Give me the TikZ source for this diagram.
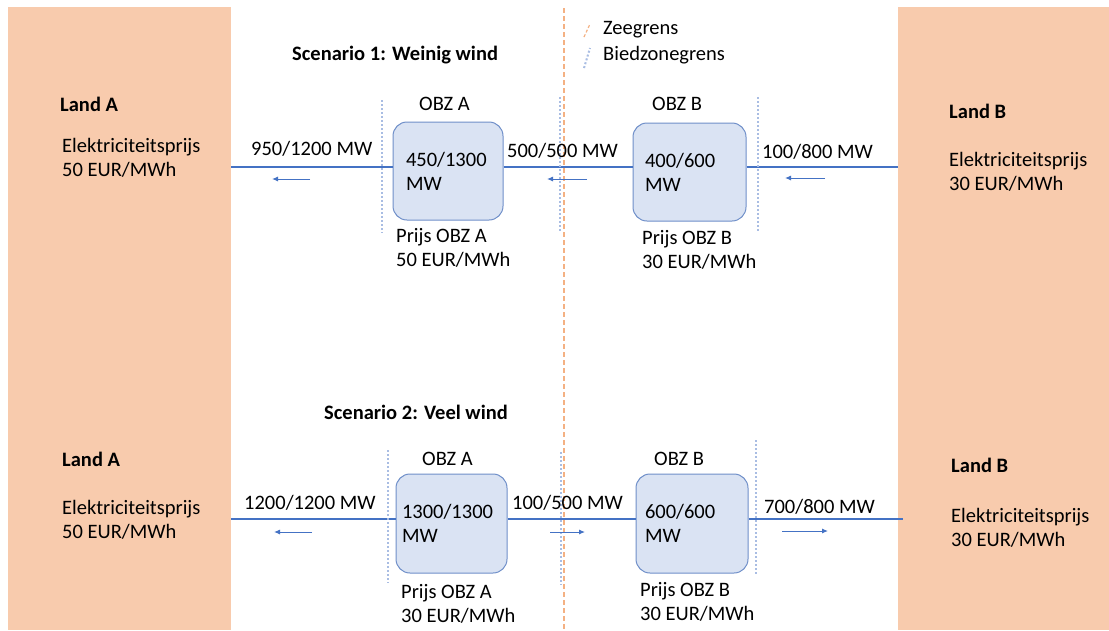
\documentclass[tikz,border=0pt]{standalone}
\usepackage{fontspec}
\setmainfont{Carlito}
\usetikzlibrary{arrows.meta}
\definecolor{peach}{HTML}{F8CBAD}
\definecolor{boxfill}{HTML}{DAE3F3}
\definecolor{boxdraw}{HTML}{6F8FC9}
\definecolor{linec}{HTML}{4472C4}
\definecolor{dotc}{HTML}{A9BDE3}
\definecolor{orangec}{HTML}{F4B183}
\begin{document}
\begin{tikzpicture}[x=1pt,y=-1pt,
  font=\fontsize{20.5}{24}\selectfont,
  panel/.style={fill=peach, draw=none, inner sep=0, anchor=north west},
  obz/.style={draw=boxdraw, fill=boxfill, rounded corners=14pt, line width=1pt,
    inner sep=0, align=left},
  txt/.style={inner sep=0, anchor=west, align=left},
  ttl/.style={inner sep=0, anchor=west, font=\fontsize{20.5}{24}\selectfont\bfseries},
  flow/.style={draw=linec, line width=2.5pt},
  dirarrow/.style={draw=linec, line width=1pt, -{Latex[length=6pt,width=5pt]}},
  bzone/.style={draw=dotc, line width=2.2pt, dash pattern=on 2pt off 2pt},
  sea/.style={draw=orangec, line width=1.2pt, dash pattern=on 5pt off 3pt}]
\useasboundingbox (0,0) rectangle (1109,630);
\fill[white] (0,0) rectangle (1109,630);

% panels
\node[panel, minimum width=223pt, minimum height=623pt] (PL) at (8,7) {};
\node[panel, minimum width=211pt, minimum height=623pt] (PR) at (898,7) {};

% sea border
\coordinate (seatop) at (564,8);
\coordinate (seabot) at (564,630);
\draw[sea] (seatop) -- (seabot);

% legend
\draw[orangec, line width=1.2pt, dash pattern=on 3pt off 2pt] (584,37) -- (590,24);
\draw[dotc, line width=2pt, dash pattern=on 2pt off 2pt] (584,68) -- (590,48);
\node[txt] (lz) at (603,30) {Zeegrens};
\node[txt] (lb) at (603,55) {Biedzonegrens};

% titles
\node[ttl] (t1) at (292,55) {Scenario 1: Weinig wind};
\node[ttl] (t2) at (324,412) {Scenario 2: Veel wind};

% land texts
\node[ttl] (la1) at (60,104) {Land A};
\node[txt] (pa1) at (62,158) {Elektriciteitsprijs\\50 EUR/MWh};
\node[ttl] (la2) at (62,459) {Land A};
\node[txt] (pa2) at (62,520) {Elektriciteitsprijs\\50 EUR/MWh};
\node[ttl] (lb1) at (949,111) {Land B};
\node[txt] (pb1) at (949,172) {Elektriciteitsprijs\\30 EUR/MWh};
\node[ttl] (lb2) at (951,465) {Land B};
\node[txt] (pb2) at (951,528) {Elektriciteitsprijs\\30 EUR/MWh};

% ---------- scenario 1 ----------
\coordinate (y1) at (0,167);
\node[obz, minimum width=110pt, minimum height=98pt, text width=84pt] (a1) at (448,171) {450/1300\\MW};
\node[obz, minimum width=113pt, minimum height=98pt, text width=89pt] (b1) at (689.5,172) {400/600\\MW};
\node[txt] (oa1) at (419,104) {OBZ A};
\node[txt] (ob1) at (652,104) {OBZ B};
\node[txt] (qa1) at (396,248) {Prijs OBZ A\\50 EUR/MWh};
\node[txt] (qb1) at (642,250) {Prijs OBZ B\\30 EUR/MWh};

\draw[flow] (a1.west |- y1) -- (PL.east |- y1);
\draw[flow] (a1.east |- y1) -- (b1.west |- y1);
\draw[flow] (b1.east |- y1) -- (PR.west |- y1);

\draw[bzone] (382,100) -- (382,233);
\draw[bzone] (560,97) -- (560,231);
\draw[bzone] (758,97) -- (758,232);

\draw[dirarrow] (310,179) -- (272,179);
\draw[dirarrow] (587,179) -- (547,179);
\draw[dirarrow] (825,178) -- (785,178);

\node[txt] (f11) at (251,149) {950/1200 MW};
\node[txt] (f12) at (507,151) {500/500 MW};
\node[txt] (f13) at (762,152) {100/800 MW};

% ---------- scenario 2 ----------
\coordinate (y2) at (0,519);
\node[obz, minimum width=111pt, minimum height=99pt, text width=99pt] (a2) at (451.5,523.5) {1300/1300\\MW};
\node[obz, minimum width=112pt, minimum height=99pt, text width=94pt] (b2) at (692,523.5) {600/600\\MW};
\node[txt] (oa2) at (422,459) {OBZ A};
\node[txt] (ob2) at (654,459) {OBZ B};
\node[txt] (qa2) at (401,604) {Prijs OBZ A\\30 EUR/MWh};
\node[txt] (qb2) at (640,602) {Prijs OBZ B\\30 EUR/MWh};

\draw[flow] (a2.west |- y2) -- (PL.east |- y2);
\draw[flow] (a2.east |- y2) -- (b2.west |- y2);
\draw[flow] (b2.east |- y2) -- ([xshift=5pt]PR.west |- y2);

\draw[bzone] (388,450) -- (388,583);
\draw[bzone] (561,452) -- (561,585);
\draw[bzone] (756,440) -- (756,574);

\draw[dirarrow] (312,532) -- (274,532);
\draw[dirarrow] (550,532) -- (585,532);
\draw[dirarrow] (782,531) -- (828,531);

\node[txt] (f21) at (244,503) {1200/1200 MW};
\node[txt] (f22) at (512,503) {100/500 MW};
\node[txt] (f23) at (764,507) {700/800 MW};
\end{tikzpicture}
\end{document}
